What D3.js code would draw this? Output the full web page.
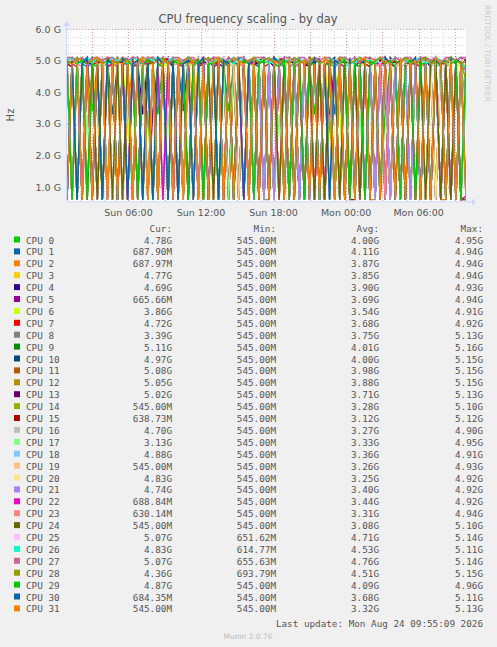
<!DOCTYPE html>
<html><head><meta charset="utf-8">
<script src="https://cdn.jsdelivr.net/npm/d3@7"></script>
<style>body{margin:0;background:#f0f0f0}svg{display:block}</style>
</head><body><svg width="497" height="647"></svg>
<script>
const cpuNames = d3.range(32).map(i => "CPU " + i)
const colors = ["#00cc00","#0066b3","#ff8000","#ffcc00","#330099","#990099","#ccff00","#ff0000","#808080",
  "#008f00","#00487d","#b35a00","#b38f00","#6b006b","#8fb300","#b30000","#bebebe","#80ff80","#80c9ff",
  "#ffc080","#ffe680","#aa80ff","#ee00cc","#ff8080","#666600","#ffbfff","#00ffcc","#cc6699","#999900",
  "#00cc00","#0066b3","#ff8000"]
const curVals = ["4.78G","687.90M","687.97M","4.77G","4.69G","665.66M","3.86G","4.72G","3.39G","5.11G","4.97G","5.08G","5.05G","5.02G","545.00M","638.73M","4.70G","3.13G","4.88G","545.00M","4.83G","4.74G","688.84M","630.14M","545.00M","5.07G","4.83G","5.07G","4.36G","4.87G","684.35M","545.00M"]
const minVals = ["545.00M","545.00M","545.00M","545.00M","545.00M","545.00M","545.00M","545.00M","545.00M","545.00M","545.00M","545.00M","545.00M","545.00M","545.00M","545.00M","545.00M","545.00M","545.00M","545.00M","545.00M","545.00M","545.00M","545.00M","545.00M","651.62M","614.77M","655.63M","693.79M","545.00M","545.00M","545.00M"]
const avgVals = ["4.00G","4.11G","3.87G","3.85G","3.90G","3.69G","3.54G","3.68G","3.75G","4.01G","4.00G","3.98G","3.88G","3.71G","3.28G","3.12G","3.27G","3.33G","3.36G","3.26G","3.25G","3.40G","3.44G","3.31G","3.08G","4.71G","4.53G","4.76G","4.51G","4.09G","3.68G","3.32G"]
const maxVals = ["4.95G","4.94G","4.94G","4.94G","4.93G","4.94G","4.91G","4.92G","5.13G","5.16G","5.15G","5.15G","5.15G","5.13G","5.10G","5.12G","4.90G","4.95G","4.91G","4.93G","4.92G","4.92G","4.92G","4.94G","5.10G","5.14G","5.11G","5.14G","5.15G","4.96G","5.11G","5.13G"]
const xTickLabels = ["Sun 06:00","Sun 12:00","Sun 18:00","Mon 00:00","Mon 06:00"]
const yTickLabels = ["1.0 G","2.0 G","3.0 G","4.0 G","5.0 G","6.0 G"]

// frequency samples per CPU, in units of 0.1 GHz
const series = [
 [50,49,6,49,50,34,49,6,50,49,48,6,50,49,6,49,50,49,33,50,49,6,49,50,48,6,49,50,49,6,50,49,34,49,6,50,49,6,49,50,6,49,50,48,6,49,6,50,49,33,50,6,49,48,50,6,49,50,6,49,48,50,6,34,49,50,6,49,6,50,49,48,6,50,49,6,49,50,49,48],
 [49,6,50,49,48,50,6,49,50,33,49,50,6,49,48,50,6,49,50,49,6,50,49,34,50,49,6,49,50,48,49,6,50,49,49,6,50,49,48,6,49,50,6,49,50,49,6,48,50,49,6,49,50,33,49,6,50,49,48,6,49,50,49,6,50,48,49,6,50,49,6,49,50,49,6,48,50,49,6,7],
 [6,49,50,6,49,6,50,49,6,49,50,6,34,49,50,6,49,6,50,48,6,49,50,6,49,6,50,49,6,49,50,6,49,6,50,49,6,49,50,6,6,49,6,50,49,6,48,6,50,49,6,49,6,50,6,49,48,6,50,49,6,6,49,50,6,49,6,48,50,6,49,6,50,49,6,6,50,49,6,7],
 [48,50,49,6,50,49,33,6,49,50,48,6,49,50,49,6,50,49,6,49,48,50,6,49,50,34,49,6,50,49,48,6,49,50,6,49,50,48,6,49,50,6,49,48,50,49,6,50,49,6,49,50,33,6,49,48,50,6,49,49,6,50,48,49,6,50,49,6,49,50,48,6,49,50,6,49,48,6,50,48],
 [49,48,6,50,49,49,6,50,48,6,49,50,49,6,49,33,50,49,6,49,50,48,6,49,50,6,49,49,50,6,49,48,50,6,49,50,6,49,49,6,50,48,49,6,50,49,6,49,48,50,6,49,49,6,50,49,6,48,50,49,6,49,50,6,49,48,6,50,49,49,6,50,48,6,49,50,49,6,49,47],
 [6,49,6,49,50,6,49,48,6,50,6,49,49,6,50,49,6,34,49,6,50,49,6,48,6,49,50,6,49,6,50,49,6,49,48,6,50,6,49,6,49,6,50,49,6,48,6,49,50,6,49,6,33,49,6,50,6,49,48,6,49,6,50,49,6,49,6,48,50,6,49,6,49,50,6,49,6,48,6,7],
 [49,6,48,6,49,6,49,48,6,49,6,49,33,6,49,48,6,49,6,49,48,6,49,6,49,49,6,48,6,49,6,49,48,6,49,6,49,48,6,49,6,48,49,6,49,6,48,6,49,49,6,48,6,49,34,6,49,6,48,49,6,49,6,48,6,49,49,6,48,6,49,6,49,48,6,49,6,49,48,39],
 [49,48,6,49,6,49,49,6,48,49,6,49,6,48,49,6,49,49,6,48,6,49,49,6,49,6,48,49,6,49,49,6,48,6,49,49,6,49,6,48,49,6,49,6,48,49,6,49,49,6,48,6,49,6,49,48,6,49,6,49,48,6,49,49,6,48,6,49,6,49,48,6,49,6,49,49,6,48,6,47],
 [51,6,49,50,6,49,6,50,49,6,51,49,6,50,6,49,50,6,49,51,6,49,6,50,49,6,50,49,6,51,6,49,50,6,49,6,50,49,6,50,6,51,49,6,50,6,49,50,6,49,6,51,6,49,50,6,49,50,6,51,6,49,6,50,49,6,50,6,49,51,6,49,6,50,49,6,50,6,49,34],
 [50,51,6,50,49,51,6,50,49,6,50,51,49,6,50,50,6,49,51,50,6,50,49,6,51,50,49,6,50,51,6,49,50,50,6,51,49,6,50,51,50,6,49,51,6,50,50,6,49,51,50,6,49,50,6,51,50,49,6,50,51,6,50,49,6,51,50,6,49,50,51,6,50,49,6,50,51,49,6,51],
 [49,50,51,6,50,49,6,50,51,49,6,50,49,51,6,50,49,6,50,51,49,6,50,50,6,49,51,6,50,49,50,6,51,49,6,50,50,6,49,50,6,51,49,50,6,50,49,6,51,50,6,49,50,51,6,49,50,6,50,51,6,49,50,6,51,49,50,6,50,49,6,51,50,6,49,50,6,51,49,50],
 [50,6,50,51,6,49,50,6,51,50,6,49,50,6,51,49,50,6,50,49,6,51,50,6,49,50,51,6,49,6,50,51,6,49,50,6,50,49,6,51,50,6,49,51,6,50,6,49,51,50,6,49,6,50,51,6,49,50,6,51,6,50,49,6,50,51,6,49,6,50,51,49,6,50,6,49,51,6,50,51],
 [49,50,6,49,51,6,50,49,6,50,51,6,49,50,6,50,49,51,6,50,6,49,50,6,51,49,6,50,50,6,49,51,6,50,49,6,50,51,6,50,49,6,51,50,6,49,50,6,51,6,50,49,6,50,51,6,49,6,50,51,49,6,50,6,49,51,6,50,49,6,51,50,6,49,6,50,51,6,49,50],
 [6,50,49,6,51,6,49,50,6,49,6,50,51,6,49,6,50,49,6,50,51,6,49,6,50,49,6,51,6,50,49,6,50,6,49,51,6,50,49,6,49,6,50,51,6,49,6,50,6,49,51,6,50,6,49,50,6,51,49,6,50,6,49,51,6,50,6,49,50,6,51,6,49,50,6,49,6,50,51,50],
 [6,49,6,50,6,49,6,51,49,6,50,6,49,6,50,6,34,6,49,50,6,49,6,50,6,49,51,6,49,6,50,6,49,6,50,49,6,50,6,49,6,51,6,49,6,50,49,6,50,6,49,6,33,6,50,49,6,51,6,49,6,50,6,49,50,6,49,6,51,6,49,6,50,49,6,50,6,49,6,6],
 [49,6,50,6,49,6,51,6,49,6,50,49,6,50,6,49,6,50,6,49,51,6,49,6,50,6,49,6,50,49,6,50,6,49,6,51,6,49,6,50,6,49,6,50,49,6,51,6,49,6,50,6,49,6,50,49,6,6,50,6,49,6,51,6,49,50,6,49,6,50,6,49,6,51,49,6,50,6,49,6],
 [6,48,6,49,6,48,49,6,48,6,49,6,48,6,49,48,6,49,6,48,6,49,6,48,49,6,48,6,49,6,48,6,49,48,6,49,6,48,6,49,6,48,6,49,6,48,49,6,48,6,49,6,48,6,49,48,6,49,6,48,6,49,6,48,49,6,48,6,49,6,48,6,49,48,6,49,6,48,6,47],
 [49,6,49,6,33,6,49,48,6,49,6,48,6,49,6,49,48,6,49,6,34,6,49,6,48,49,6,49,6,48,6,49,6,49,48,6,49,6,48,6,49,6,33,6,49,48,6,49,6,49,6,48,6,49,6,49,48,6,34,6,49,6,48,6,49,49,6,48,6,49,6,49,6,48,6,49,49,6,48,31],
 [6,49,6,48,6,49,6,49,48,6,49,6,48,6,49,6,49,6,48,49,6,49,6,48,6,49,6,49,6,48,49,6,49,6,48,6,49,6,49,6,48,6,49,6,49,48,6,49,6,48,6,49,6,49,6,48,49,6,49,6,48,6,49,6,49,6,48,49,6,49,6,48,6,49,6,49,6,48,6,49],
 [49,6,48,6,49,6,49,6,48,6,49,49,6,48,6,49,6,49,6,48,6,49,49,6,48,6,49,6,49,6,48,6,49,49,6,48,6,49,6,49,6,48,6,49,6,49,48,6,49,6,48,6,49,6,49,48,6,49,6,48,6,49,6,49,6,48,49,6,49,6,48,6,49,6,49,6,48,6,49,6],
 [6,49,6,49,6,48,6,49,49,6,48,6,49,6,49,6,48,49,6,49,6,48,6,49,6,49,48,6,49,6,49,6,48,6,49,49,6,48,6,49,6,48,6,49,49,6,48,6,49,6,49,6,48,6,49,49,6,48,6,49,6,49,6,48,6,49,6,49,48,6,49,6,48,6,49,6,49,6,48,48],
 [48,6,49,6,49,48,6,49,6,49,6,48,6,49,49,6,48,6,49,6,49,6,48,49,6,49,6,48,6,49,6,49,48,6,49,6,49,6,48,6,49,6,49,48,6,49,6,48,6,49,6,49,6,48,49,6,49,6,48,6,49,6,49,48,6,49,6,48,6,49,6,49,6,48,49,6,49,6,48,47],
 [6,49,48,6,49,6,49,6,48,49,6,49,6,48,6,49,49,6,48,6,49,6,49,48,6,49,6,49,6,48,49,6,49,6,48,6,49,49,6,48,6,49,6,49,6,48,49,6,49,6,48,6,49,6,49,48,6,49,6,48,6,49,49,6,48,6,49,6,48,6,49,49,6,48,6,49,6,49,6,7],
 [49,6,49,48,6,49,6,49,6,48,49,6,49,6,48,6,49,6,49,48,6,49,6,49,6,48,6,49,49,6,48,6,49,6,49,48,6,49,6,49,6,48,6,49,6,49,48,6,49,6,48,6,49,49,6,48,6,49,6,49,6,48,49,6,49,6,48,6,49,6,49,48,6,49,6,48,6,49,6,6],
 [6,50,6,49,6,51,6,49,50,6,49,6,50,6,49,6,51,49,6,50,6,49,6,50,6,49,51,6,49,6,50,6,49,6,50,49,6,51,6,49,6,50,6,49,51,6,49,6,50,6,49,6,50,49,6,51,6,49,6,50,6,49,6,51,49,6,50,6,49,6,50,6,49,51,6,49,6,50,6,6],
 [51,50,51,49,51,50,51,51,49,51,50,51,51,49,50,51,51,50,49,51,51,50,51,49,51,50,51,51,49,50,51,51,50,51,49,51,50,51,51,51,50,49,51,51,50,51,49,51,50,51,51,49,51,50,51,51,49,50,51,51,50,51,49,51,50,51,51,49,51,50,51,49,51,51,50,51,49,51,50,51],
 [50,51,49,50,51,49,51,50,49,51,50,50,49,51,50,49,51,50,51,49,50,51,49,50,51,50,49,51,50,49,51,50,50,49,51,50,49,51,50,50,49,51,50,49,51,50,51,49,50,51,49,50,51,50,49,51,50,49,51,50,50,49,51,50,49,51,50,51,49,50,51,49,50,51,50,49,51,50,49,48],
 [51,51,50,51,49,51,51,50,51,51,49,51,50,51,51,49,51,51,50,51,49,51,51,50,51,51,49,51,50,51,51,49,51,50,51,51,49,51,51,51,50,51,49,51,51,50,51,51,49,51,50,51,51,49,51,51,50,51,49,51,51,50,51,51,49,51,50,51,51,49,51,51,50,51,49,51,51,50,51,51],
 [50,49,51,50,49,50,51,49,50,50,49,51,50,49,50,51,50,49,50,51,49,50,50,49,51,50,49,50,51,49,50,50,49,51,50,49,50,51,49,50,51,49,50,50,49,51,50,49,50,51,49,50,50,49,51,50,49,50,51,50,49,50,51,49,50,50,49,51,50,49,50,51,49,50,50,49,51,50,49,44],
 [49,6,49,50,6,49,48,6,50,49,6,49,50,48,6,49,50,6,49,48,6,50,49,49,6,48,50,6,49,49,6,50,48,6,49,50,49,6,49,50,6,49,48,50,6,49,50,6,49,49,6,48,50,6,49,50,6,49,48,6,50,49,6,49,50,48,6,49,50,6,49,49,6,50,48,6,49,50,6,49],
 [6,50,6,49,51,6,49,6,50,49,6,51,6,49,50,6,49,6,51,49,6,50,6,49,50,6,49,51,6,49,6,50,49,6,51,6,49,50,6,49,6,51,49,6,50,6,49,50,6,51,6,49,6,50,49,6,51,6,49,50,6,49,6,51,49,6,50,6,49,51,6,49,6,50,49,6,51,6,49,7],
 [6,49,50,6,49,6,51,49,6,50,6,49,50,6,49,51,6,49,6,50,49,6,51,6,49,50,6,49,6,50,51,6,49,6,50,49,6,51,6,49,6,50,49,6,51,6,49,50,6,49,6,51,49,6,50,6,49,6,50,51,6,49,6,50,49,6,51,6,49,50,6,49,6,51,49,6,50,6,49,6]
]

const svg = d3.select("svg")
const tStart = new Date(2026, 7, 23, 0, 55), tEnd = new Date(2026, 7, 24, 9, 55)
const x = d3.scaleTime().domain([tStart, tEnd]).range([67, 466])
const y = d3.scaleLinear().domain([1, 6]).range([187, 29])
const yBottom = y(0.545)
const sans = "DejaVu Sans", mono = "DejaVu Sans Mono"

svg.append("rect").attr("x", 67).attr("y", 29).attr("width", 399).attr("height", yBottom - 29).attr("fill", "#fff")

// grid
const g = svg.append("g")
d3.range(0.75, 6.001, 0.25).forEach(v => {
  const major = Math.abs(v - Math.round(v)) < 0.01
  g.append("line").attr("x1", 67).attr("x2", 466).attr("y1", Math.round(y(v)) + 0.5).attr("y2", Math.round(y(v)) + 0.5)
    .attr("stroke", major ? "#e6a0a0" : "#d8d8d8").attr("stroke-dasharray", "1,2")
})
d3.timeHour.every(1).range(tStart, tEnd).forEach(t => {
  const major = t.getHours() % 3 === 0
  g.append("line").attr("y1", 29).attr("y2", yBottom).attr("x1", Math.round(x(t)) + 0.5).attr("x2", Math.round(x(t)) + 0.5)
    .attr("stroke", major ? "#e6a0a0" : "#d8d8d8").attr("stroke-dasharray", "1,2")
})

// lines
svg.append("clipPath").attr("id", "clip").append("rect").attr("x", 67).attr("y", 29).attr("width", 399).attr("height", yBottom - 29)
const lines = svg.append("g").attr("clip-path", "url(#clip)")
series.forEach((s, i) => {
  const line = d3.line()
    .x((d, j) => x(new Date(+tStart + (tEnd - tStart) * j / (s.length - 1))))
    .y(d => y(Math.max(d, 5.45) / 10))
  lines.append("path").datum(s).attr("d", line).attr("fill", "none")
    .attr("stroke", colors[i]).attr("stroke-width", 1.4)
})

// axes
svg.append("line").attr("x1", 67).attr("x2", 472).attr("y1", yBottom + 0.5).attr("y2", yBottom + 0.5).attr("stroke", "#ccd8ff")
svg.append("line").attr("x1", 66.5).attr("x2", 66.5).attr("y1", 24).attr("y2", yBottom).attr("stroke", "#ccd8ff")
svg.append("path").attr("d", `M472,${yBottom - 3}L476,${yBottom + 0.5}L472,${yBottom + 4}Z`).attr("fill", "#ccd8ff")
svg.append("path").attr("d", "M63,26L66.5,21L70,26Z").attr("fill", "#ccd8ff")

yTickLabels.forEach((l, i) => {
  svg.append("text").attr("x", 61).attr("y", y(i + 1) + 3.5).attr("text-anchor", "end")
    .attr("font-family", sans).attr("font-size", 9.5).attr("fill", "#555").text(l)
})
xTickLabels.forEach((l, i) => {
  const t = new Date(2026, 7, 23, 6 + i * 6)
  svg.append("text").attr("x", x(t)).attr("y", yBottom + 15).attr("text-anchor", "middle")
    .attr("font-family", sans).attr("font-size", 9.5).attr("fill", "#555").text(l)
})

svg.append("text").attr("x", 248).attr("y", 23).attr("text-anchor", "middle").attr("font-family", sans)
  .attr("font-size", 11.5).attr("fill", "#555").text("CPU frequency scaling - by day")
svg.append("text").attr("transform", "translate(14,115) rotate(-90)").attr("text-anchor", "middle")
  .attr("font-family", sans).attr("font-size", 10).attr("fill", "#555").text("Hz")
svg.append("text").attr("transform", "translate(485,5) rotate(90)").attr("font-family", sans)
  .attr("font-size", 7.5).attr("fill", "#ccc").text("RRDTOOL / TOBI OETIKER")

// legend
const colX = [172, 276, 379, 483]
const lt = (xx, yy, s, anchor) => svg.append("text").attr("x", xx).attr("y", yy).attr("text-anchor", anchor || "start")
  .attr("font-family", mono).attr("font-size", 9.3).attr("fill", "#555").text(s)
;["Cur:", "Min:", "Avg:", "Max:"].forEach((h, i) => lt(colX[i], 232, h, "end"))
cpuNames.forEach((name, i) => {
  const yy = 243.5 + i * 11.9
  svg.append("rect").attr("x", 14).attr("y", yy - 7).attr("width", 6).attr("height", 6).attr("fill", colors[i])
  lt(26, yy, name)
  lt(colX[0], yy, curVals[i], "end")
  lt(colX[1], yy, minVals[i], "end")
  lt(colX[2], yy, avgVals[i], "end")
  lt(colX[3], yy, maxVals[i], "end")
})
lt(483, 627, "Last update: Mon Aug 24 09:55:09 2026", "end")
svg.append("text").attr("x", 248).attr("y", 639).attr("text-anchor", "middle").attr("font-family", sans)
  .attr("font-size", 7.5).attr("fill", "#bbb").text("Munin 2.0.76")
</script></body></html>
